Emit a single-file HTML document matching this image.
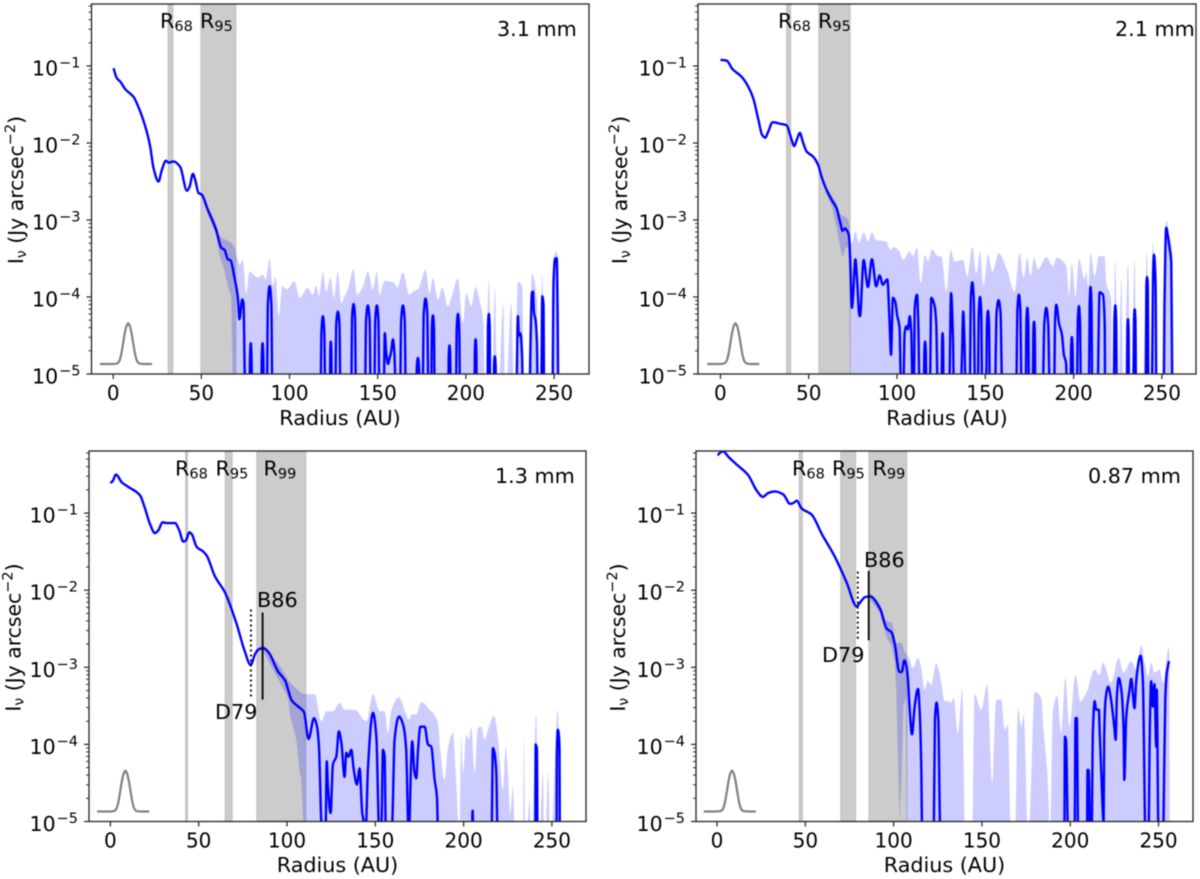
<!DOCTYPE html>
<html lang="en">
<head>
<meta charset="utf-8">
<title>Radial intensity profiles</title>
<style>
html,body{margin:0;padding:0;background:#fff;}
svg{display:block;width:1200px;height:879px;filter:blur(0.4px);}
text{font-family:"DejaVu Sans","Liberation Sans",sans-serif;fill:#000;}
</style>
</head>
<body>
<svg id="figure" width="1200" height="879" viewBox="0 0 1200 879">
  <g id="plots"></g>
  <g id="annotations">
    <text x="23" y="190" font-size="20.4" text-anchor="middle" transform="rotate(-90 23 190)">I<tspan font-size="14" dy="3">ν</tspan><tspan dy="-3"> (Jy arcsec</tspan><tspan font-size="14.5" dy="-8">−2</tspan><tspan dy="8">)</tspan></text>
    <text x="627" y="190" font-size="20.4" text-anchor="middle" transform="rotate(-90 627 190)">I<tspan font-size="14" dy="3">ν</tspan><tspan dy="-3"> (Jy arcsec</tspan><tspan font-size="14.5" dy="-8">−2</tspan><tspan dy="8">)</tspan></text>
    <text x="20.5" y="637.5" font-size="20.4" text-anchor="middle" transform="rotate(-90 20.5 637.5)">I<tspan font-size="14" dy="3">ν</tspan><tspan dy="-3"> (Jy arcsec</tspan><tspan font-size="14.5" dy="-8">−2</tspan><tspan dy="8">)</tspan></text>
    <text x="625" y="637.5" font-size="20.4" text-anchor="middle" transform="rotate(-90 625 637.5)">I<tspan font-size="14" dy="3">ν</tspan><tspan dy="-3"> (Jy arcsec</tspan><tspan font-size="14.5" dy="-8">−2</tspan><tspan dy="8">)</tspan></text>

    <text x="340" y="425" font-size="20.7" text-anchor="middle">Radius (AU)</text>
    <text x="947" y="425" font-size="20.7" text-anchor="middle">Radius (AU)</text>
    <text x="337.5" y="872" font-size="20.7" text-anchor="middle">Radius (AU)</text>
    <text x="944.5" y="872" font-size="20.7" text-anchor="middle">Radius (AU)</text>

    <text x="497" y="36" font-size="20.7">3.1 mm</text>
    <text x="1115" y="36" font-size="20.7">2.1 mm</text>
    <text x="495" y="483" font-size="20.7">1.3 mm</text>
    <text x="1088" y="483" font-size="20.7">0.87 mm</text>

    <text x="160" y="28" font-size="20.7">R<tspan font-size="14.5" dy="3">68</tspan></text>
    <text x="200" y="28" font-size="20.7">R<tspan font-size="14.5" dy="3">95</tspan></text>
    <text x="778" y="28" font-size="20.7">R<tspan font-size="14.5" dy="3">68</tspan></text>
    <text x="818" y="28" font-size="20.7">R<tspan font-size="14.5" dy="3">95</tspan></text>
    <text x="175" y="475.5" font-size="20.7">R<tspan font-size="14.5" dy="3">68</tspan></text>
    <text x="215.5" y="475.5" font-size="20.7">R<tspan font-size="14.5" dy="3">95</tspan></text>
    <text x="263.5" y="475.5" font-size="20.7">R<tspan font-size="14.5" dy="3">99</tspan></text>
    <text x="792" y="475.5" font-size="20.7">R<tspan font-size="14.5" dy="3">68</tspan></text>
    <text x="832" y="475.5" font-size="20.7">R<tspan font-size="14.5" dy="3">95</tspan></text>
    <text x="872.5" y="475.5" font-size="20.7">R<tspan font-size="14.5" dy="3">99</tspan></text>

    <text x="257" y="607" font-size="20.8">B86</text>
    <text x="215" y="719" font-size="20.8">D79</text>
    <text x="864" y="567" font-size="20.8">B86</text>
    <text x="822" y="662" font-size="20.8">D79</text>
  </g>
</svg>
<script>
// ---------- shared axis data ----------
const xTickValues = [0, 50, 100, 150, 200, 250];
const yTickExponents = [-1, -2, -3, -4, -5];
const logMin = -5;
const logMax = -0.195;
const beamRadius = [-7.5,0,2,3.5,4.5,5.5,6.5,7.5,8.5,9.5,10.5,11.5,12.5,13.5,15,17,22];
const beamLog = [-4.87,-4.87,-4.865,-4.83,-4.75,-4.62,-4.48,-4.38,-4.34,-4.38,-4.48,-4.62,-4.75,-4.83,-4.865,-4.87,-4.87];

// ---------- 3.1 mm ----------
const radius31 = [
0.2,2.1,3.9,6.8,11.5,15.3,19,21,22.9,25.7,
27.6,29.9,31.4,34.2,38,41.8,43.3,45.2,46.5,48.4,
50.2,53.7,58.4,61.3,63.2,65,66.4,68.8,70.7,71.6,
73.2,73.9,74.6,75.2,
77.2,77.6,78,78.4,78.8,
83.9,84.3,84.7,85.1,85.5,
87.1,87.7,88.7,89.7,90.3,
117.5,118.1,118.9,119.7,120.3,
122.8,123.1,123.4,123.7,124,
125.9,126.5,127.4,128.3,128.9,
134.9,135.5,136.3,137.1,137.7,
142.7,143.4,144.4,145.4,146.1,
148,148.6,149.5,150.4,151,
153.3,154,154.8,155.8,156.7,157.7,158.6,159.4,160.5,
162.6,163.3,164.3,165.3,166,
171.8,172.2,172.8,173.4,173.8,
175.4,176.1,177.1,178.1,178.8,
180.3,180.7,181.3,181.9,182.3,
189.9,190.3,190.7,191.1,191.5,
194.3,194.8,195.5,196.2,196.7,
204.8,205.1,205.5,205.9,206.2,
212.2,212.5,213,213.5,213.8,
215.6,216,216.4,216.8,217.2,
228.5,229.5,230,230.8,231.9,232.3,
236.1,236.5,237.4,238,238.6,239.5,240.3,240.8,
242.7,243.3,244,244.4,
249,249.7,250.6,251.5,252,252.4];
const logI31 = [
-1.03,-1.16,-1.2,-1.30,-1.40,-1.59,-1.85,-2.05,-2.33,-2.50,
-2.35,-2.23,-2.255,-2.24,-2.31,-2.62,-2.57,-2.40,-2.48,-2.65,
-2.67,-2.87,-3.13,-3.36,-3.39,-3.51,-3.52,-3.75,-4.01,-4.29,
-4.03,-4.08,-5,-5.4,
-5.4,-4.75,-4.6,-4.75,-5.4,
-5.4,-4.75,-4.6,-4.75,-5.4,
-5.4,-4.1,-3.86,-4.1,-5.4,
-5.4,-4.45,-4.25,-4.45,-5.4,
-5.4,-4.7,-4.58,-4.7,-5.4,
-5.4,-4.35,-4.19,-4.35,-5.4,
-5.4,-4.25,-4.09,-4.25,-5.4,
-5.4,-4.3,-4.11,-4.3,-5.4,
-5.4,-4.3,-4.11,-4.3,-5.4,
-5.4,-4.47,-4.72,-4.87,-4.8,-4.7,-4.55,-4.7,-5.4,
-5.4,-4.3,-4.11,-4.3,-5.4,
-5.4,-4.9,-4.79,-4.9,-5.4,
-5.4,-4.22,-4.02,-4.22,-5.4,
-5.4,-4.4,-4.24,-4.4,-5.4,
-5.4,-4.75,-4.63,-4.75,-5.4,
-5.4,-4.4,-4.22,-4.4,-5.4,
-5.4,-4.7,-4.55,-4.7,-5.4,
-5.4,-4.4,-4.22,-4.4,-5.4,
-5.4,-4.85,-4.77,-4.85,-5.4,
-5.4,-4.25,-4.5,-4.47,-4.8,-5.4,
-5.4,-4.79,-3.95,-3.93,-4.2,-4.3,-4.6,-5.4,
-5.4,-3.99,-4.1,-5.4,
-5.4,-3.8,-3.5,-3.5,-4.2,-5.4];
const upperRadius31 = [
50,53.7,58.4,60.3,67.9,70.7,71.6,73.5,75.4,77.3,
82,84.9,86.4,88.7,90.5,92,94,95.8,98.5,102.8,
105.7,110.4,113.2,115.1,116.6,118.9,120.8,123.3,125.1,127.4,
129.3,131.2,133.1,136.3,138.2,141.6,144.4,147.3,149.5,151,
153.9,159.5,160.9,164.3,168,170,172.8,177.1,179.4,181.3,
184.1,186.6,189.8,191.7,195.5,198.3,200.2,203,205.5,208.1,
210,211,213,214.7,216.4,218.1,221.2,222.5,225.7,227.6,
229.5,231.9,233.3,235.2,237.4,240.3,241.4,243.3,244.6,247.8,
250.5,252.3,253];
const upperLog31 = [
-2.63,-2.82,-3.05,-3.2,-3.32,-3.52,-3.58,-3.52,-3.95,-3.67,
-3.75,-3.71,-3.77,-3.51,-3.86,-3.74,-4.25,-3.86,-3.9,-3.79,
-4.01,-3.88,-3.97,-3.85,-3.99,-3.68,-3.93,-3.75,-4.01,-3.67,
-4.08,-3.99,-3.9,-3.64,-3.97,-3.86,-3.67,-3.9,-3.67,-3.97,
-3.79,-3.82,-3.88,-3.68,-3.97,-3.93,-3.9,-3.65,-3.95,-3.75,
-4.03,-3.88,-4.12,-4.01,-3.76,-4.34,-3.95,-4.12,-3.87,-4.08,
-4.34,-5.4,-3.77,-5.4,-3.88,-5.4,-4.1,-5.4,-4.08,-5.4,
-3.8,-3.86,-5.4,-5.4,-3.7,-4.03,-5.4,-3.7,-5.4,-5.4,
-3.41,-3.47,-5.4];
const lowerRadius31 = [50,53.7,58.4,60.3,63,65,66.9,68];
const lowerLog31 = [-2.7,-2.92,-3.2,-3.47,-3.65,-3.86,-3.99,-5.4];
const spanStart31 = [31.1,49.7];
const spanEnd31 = [33.9,69.6];

// ---------- 2.1 mm ----------
const radius21 = [
0,3.5,6.8,12,15.8,18.6,21.5,23.7,25.4,27.1,
29.6,33.7,37.5,39.8,41.8,43.2,45,46.6,48.8,52.6,
55.4,57.3,60.1,63,65.8,67.7,69.2,70.5,72,72.8,
73.6,74.5,75,76.4,77.5,78.5,79,81.1,83.5,85.8,
88.2,90.1,92,94.5,95.8,96.6,97.7,99,100,101.5,
102,102.6,
103.4,104.3,105.3,106.2,107.2,108.1,108.9,
109.5,110,111.3,112,112.9,
115.1,115.5,115.9,116.3,116.7,
118.5,119.4,121.3,122.2,123.2,
125.2,125.5,125.8,126.1,126.4,
129.4,130.6,131.7,132.3,
135.9,136.8,137.5,138.2,139,
141.1,141.8,142.6,143.4,144.3,
145.7,146.3,147,147.7,148.3,
150.4,150.9,151.5,152.1,152.6,
155.3,156.4,157.5,158.6,159.7,
167.4,168.2,169,169.8,170.6,
172.8,173.3,173.8,174.3,174.8,
176.8,177.2,177.6,178,178.4,
182.4,183.4,184.5,185.6,186.6,
188.9,189.5,190.2,191.7,193.4,194.5,195.8,196.2,
198.2,198.6,199,199.4,199.8,
201.8,202.4,203,203.6,204.2,
208.6,209.1,209.6,210.1,210.6,
213.4,214.7,216.6,217.6,217.9,
222.7,223.1,223.6,224.1,224.5,
230.2,230.5,230.8,231.1,231.4,
233.8,234.2,234.6,235,235.4,
240.8,241.2,241.6,242,242.4,
244.3,245,245.5,246.4,246.9,
250.9,251.5,252.4,253.4,254.3,255.3,255.9];
const logI21 = [
-0.92,-0.93,-1.04,-1.14,-1.27,-1.42,-1.70,-1.90,-1.93,-1.85,
-1.73,-1.75,-1.77,-1.92,-2.04,-1.96,-1.87,-1.98,-2.11,-2.18,
-2.29,-2.44,-2.61,-2.74,-2.85,-3.02,-3.14,-3.11,-3.15,-3.21,
-3.6,-4.14,-4.03,-3.51,-3.82,-4.21,-4.25,-3.52,-3.87,-3.51,
-3.86,-3.72,-3.84,-3.77,-4.34,-4.75,-4.01,-4.06,-4.23,-4.42,
-5,-5.4,
-5.4,-4.47,-4.38,-4.42,-4.25,-4.47,-5.4,
-5.4,-4.16,-3.97,-4.29,-5.4,
-5.4,-4.7,-4.58,-4.7,-5.4,
-5.4,-4.01,-4.12,-4.34,-5.4,
-5.4,-4.6,-4.47,-4.6,-5.4,
-5.4,-3.95,-4.55,-5.4,
-5.4,-4.75,-4.19,-4.6,-5.4,
-5.4,-4.0,-3.81,-4.0,-5.4,
-5.4,-4.2,-4,-4.2,-5.4,
-5.4,-4.35,-4.18,-4.35,-5.4,
-5.4,-4.2,-4.04,-4.2,-5.4,
-5.4,-4.15,-3.97,-4.15,-5.4,
-5.4,-4.3,-4.14,-4.3,-5.4,
-5.4,-4.45,-4.32,-4.45,-5.4,
-5.4,-4.35,-4.14,-4.35,-5.4,
-5.4,-4.3,-4.1,-4.34,-4.49,-4.75,-4.88,-5.4,
-5.4,-4.65,-4.52,-4.65,-5.4,
-5.4,-4.3,-4.12,-4.3,-5.4,
-5.4,-4.1,-3.87,-4.1,-5.4,
-5.4,-3.94,-3.97,-4.36,-5.4,
-5.4,-4.3,-4.11,-4.3,-5.4,
-5.4,-4.4,-4.29,-4.4,-5.4,
-5.4,-4.3,-4.16,-4.3,-5.4,
-5.4,-3.85,-3.74,-3.85,-5.4,
-5.4,-3.7,-3.45,-3.82,-5.4,
-5.4,-4.03,-3.10,-3.21,-3.36,-3.56,-5.4];
const upperRadius21 = [
60,63,65.8,67.5,72.8,73.6,74.5,76.4,78.5,81.1,
83.5,85.8,88.2,93.9,96.2,98.1,101.5,103.4,107.2,109,
111.3,113.4,115.8,117.5,119.8,123.2,125.1,128,130.4,132.6,
137.4,139.8,142.6,144.9,147,149,151.5,154,157.6,161.9,
166.6,169.4,171.7,173.8,175.5,177.6,179.8,184.5,188.3,190.2,
195.9,197.4,199,201.1,203,206.2,207.2,208.3,209.6,211.9,
214.3,217.5,218.5,221.3,221.9,223.6,225.2,227,228.3,230.8,
232.5,234.6,235.8,239.2,241.5,243,244.9,246.8,249.6,252.4,
254.3,255.9,256.3];
const upperLog21 = [
-2.57,-2.68,-2.78,-2.91,-3.02,-3.26,-3.3,-3.15,-3.3,-3.16,
-3.28,-3.16,-3.26,-3.28,-3.39,-3.35,-3.41,-3.52,-3.41,-3.47,
-3.36,-3.82,-3.45,-3.54,-3.38,-3.47,-3.47,-3.93,-3.39,-3.54,
-3.52,-3.73,-3.35,-3.69,-3.41,-3.86,-3.45,-3.67,-3.43,-3.62,
-3.93,-3.43,-3.75,-3.49,-3.73,-3.49,-3.64,-3.48,-3.6,-3.49,
-3.6,-3.99,-3.56,-3.99,-3.51,-3.77,-3.67,-3.88,-3.43,-3.73,
-3.47,-3.47,-3.82,-4.03,-5.4,-3.52,-5.4,-3.77,-5.4,-3.58,
-5.4,-3.52,-5.4,-5.4,-3.41,-5.4,-3.28,-5.4,-5.4,-3,
-3.21,-3.43,-5.4];
const lowerRadius21 = [60,63,65.8,69,71.3,72.8,73.6];
const lowerLog21 = [-2.66,-2.82,-3.1,-3.49,-3.34,-3.39,-5.4];
const spanStart21 = [37.4,55.7];
const spanEnd21 = [39.8,73.5];

// ---------- 1.3 mm ----------
const radius13 = [
0,1.3,3.2,6.4,10.1,16.8,19.6,22.4,25.2,27.1,
29.6,31.9,36.6,39,41.3,42.8,44.7,46,48.9,52.6,
54.5,59.2,64.9,71.5,76.2,79.4,81.9,83.8,86.6,89.4,
95.1,98.9,102.7,106.4,109.6,112.2,115.3,117,118.1,119.4,
120.4,
121.9,122.5,123.2,124.7,126,127.9,129.4,130.8,132.6,133.6,
134.9,136.4,137.7,139.6,141.1,142.6,143.4,144,
144.9,145.8,148.7,150.6,151.9,152.8,
153.6,154.3,155.3,155.8,156.2,
159.6,160.9,163.4,165.7,167.5,168.5,169,
169.4,170.9,172.2,173.2,174.2,175.5,178,179.8,181.7,183.6,184.9,185.3,185.7,
204.5,205.1,205.7,
215.7,216.6,217.5,218.5,219.4,
240.6,240.8,241.5,241.9,
252.6,252.8,253.4,254.3,254.5];
const logI13 = [
-0.61,-0.585,-0.50,-0.60,-0.66,-0.77,-0.94,-1.14,-1.26,-1.225,
-1.12,-1.13,-1.13,-1.225,-1.37,-1.355,-1.25,-1.27,-1.44,-1.5,
-1.55,-1.82,-2.03,-2.44,-2.8,-2.97,-2.83,-2.77,-2.75,-2.8,
-3.06,-3.17,-3.43,-3.51,-3.58,-3.93,-3.66,-3.77,-4.03,-5,
-5.4,
-5.1,-4.22,-4.55,-4.89,-4.26,-4.16,-3.83,-3.98,-4.42,-4.11,
-4.16,-4.07,-4.31,-4.52,-4.31,-4.89,-5,-5.4,
-5,-4.33,-3.59,-3.9,-5,-5.4,
-5,-4.07,-4.16,-5,-5.4,
-5,-3.94,-3.64,-3.74,-4.07,-5,-5.4,
-5,-3.96,-4.37,-4.44,-4.07,-3.77,-3.77,-4,-4.03,-4.46,-4.68,-5,-5.4,
-5.4,-4.86,-5.4,
-5.4,-4.05,-4.11,-4.37,-5.4,
-5.4,-4,-4.05,-5.4,
-5.4,-4.16,-3.81,-4.05,-5.4];
const upperRadius13 = [
86.6,95.9,102.7,110.7,115.7,119.4,122.3,126,129.8,132.6,
138.3,144.9,148.7,152.5,155.3,157.2,159.1,163.4,167.2,169.1,
170.4,173.2,176,180.8,185.5,186.8,189.2,191.1,194,195.5,
196.8,197.4,198.7,199.6,201.5,203,204.3,206.2,208.1,210,
211.9,213.8,217.2,219.4,222.3,223.8,225.1,226.4,227.9,229.4,
233.6,234,235.1,237.4,238.3,241.1,242.6,244.9,245.8,248,
249,253.4,254.7];
const upperLog13 = [
-2.72,-2.98,-3.22,-3.35,-3.35,-3.7,-3.57,-3.57,-3.46,-3.55,
-3.55,-3.7,-3.35,-3.57,-3.57,-3.85,-3.55,-3.39,-3.59,-3.68,
-3.61,-3.61,-3.45,-3.55,-3.72,-4.07,-4.46,-4.05,-3.85,-4.37,
-4.98,-5.4,-3.9,-4.37,-3.87,-3.94,-3.77,-4.37,-3.79,-3.77,
-3.94,-3.81,-3.63,-3.9,-4.59,-4.03,-4.37,-4.9,-4.55,-5.4,
-5.4,-3.9,-5.4,-4.72,-5.4,-3.61,-5.4,-4.37,-5.4,-4.37,
-5.4,-3.55,-5.4];
const lowerRadius13 = [86.6,92.7,97.5,100.6,101.9,105.3,107.2,108,110];
const lowerLog13 = [-2.79,-3.06,-3.26,-3.4,-3.64,-3.94,-4.37,-4.44,-5.4];
const spanStart13 = [42.6,65,82.9];
const spanEnd13 = [43.7,69,110.7];
const gapMarker13 = [79.6,-2.25,-3.41];
const ringMarker13 = [86.2,-2.29,-3.42];

// ---------- 0.87 mm ----------
const radius087 = [
0.4,2.1,3.6,6.4,11.1,17.7,22.5,25.9,29,32.8,
37.6,41.3,43.2,45.1,47.9,53.6,59.3,66.8,73.4,79.1,
81,83.8,86.6,92.3,96.1,98.9,100.8,103.2,104.6,106.1,
107.4,108.1,109.1,110.4,111.9,113.8,114.7,115.7,116,116.6,
122.3,122.8,123.4,124.3,125.3,126.2,126.8,
196.6,197,197.6,198.5,198.9,
202.4,203,203.8,204.3,204.6,
209.4,209.8,210.6,211.3,
212,212.8,213.8,214.7,216.2,216.6,217.5,218.9,219.2,220,
221.5,223.2,225.1,225.7,226.4,227.5,228.9,230.2,230.6,231.7,
233.6,234.5,236.4,237.4,239.8,241.1,242.3,242.6,
244.5,244.9,245.8,246.8,247.7,248.7,249,249.8,250.4,
252.5,252.8,253.8,254.7,255.9];
const logI087 = [
-0.25,-0.21,-0.2,-0.27,-0.37,-0.51,-0.71,-0.79,-0.74,-0.72,
-0.76,-0.88,-0.87,-0.84,-0.94,-1.02,-1.27,-1.57,-1.9,-2.21,
-2.16,-2.09,-2.08,-2.24,-2.5,-2.55,-2.72,-3.06,-3.06,-2.91,
-3,-3.16,-3.55,-3.87,-3.51,-3.28,-3.55,-4.37,-5,-5.4,
-5.4,-5,-3.68,-3.46,-3.68,-5,-5.4,
-5.4,-3.9,-3.94,-5,-5.4,
-5.4,-3.66,-3.66,-5,-5.4,
-5.4,-4.33,-4.34,-5.4,
-5.4,-3.85,-3.44,-3.55,-3.55,-3.79,-4.33,-5,-3.94,-3.42,
-3.25,-3.44,-3.81,-3.94,-3.38,-3.14,-3.29,-3.81,-4.46,-3.64,
-3.29,-3.15,-3.53,-3.16,-2.85,-3.16,-5,-5.4,
-5,-4.03,-3.18,-3.51,-3.22,-4.03,-3.29,-5,-5.4,
-5.4,-5,-3.42,-3.07,-2.92];
const upperRadius087 = [
86.6,92.3,96.1,98.9,101.5,104.3,106.2,109.1,110.9,113.8,
115.7,117.5,119.4,121.3,124.2,127,128.9,130.8,132.2,134,
136.4,138.9,140.6,144.3,145.8,149.6,153,155.8,158.1,160.9,
163,164.7,166.6,168.5,170.4,172.3,173.6,175.5,175.9,178,
179.8,183.6,184.9,187.9,188.3,190.2,192.6,194.9,197.2,199.6,
203,205.7,209.1,213.8,216.6,218.5,223.2,227.4,230.2,234.5,
237.4,240.2,242.1,244,245.8,247.7,250.6,252.5,255.7,256.2,
256.3];
const upperLog087 = [
-2.04,-2.18,-2.4,-2.42,-2.68,-2.68,-2.79,-2.9,-3.01,-2.88,
-3.01,-3.29,-3.18,-3.23,-2.95,-3.2,-3.44,-3.44,-3.46,-3.4,
-3.85,-3.29,-5.4,-5.4,-3.35,-3.55,-3.22,-4.5,-3.42,-3.42,
-3.81,-3.74,-5.4,-5.4,-3.53,-3.77,-3.61,-4.98,-5.4,-4.37,
-3.32,-3.4,-3.81,-4.8,-5.4,-3.55,-3.37,-3.85,-3.14,-3.77,
-3.1,-3.44,-3.33,-3.03,-3.1,-2.94,-3.2,-2.88,-3.07,-2.92,
-3.03,-2.71,-2.94,-3.12,-2.94,-3.07,-3.03,-3.2,-2.75,-2.9,
-5.4];
const lowerRadius087 = [86.6,92.3,96.1,98.9,100.6,101.5,102.5,103.4,104.5,105.5,107,107.4];
const lowerLog087 = [-2.12,-2.3,-2.62,-2.72,-2.94,-3.3,-4.2,-5,-4.4,-3.5,-3.4,-5.4];
const spanStart087 = [46.5,70,86];
const spanEnd087 = [48.4,78.5,107.5];
const gapMarker087 = [79.7,-1.76,-2.64];
const ringMarker087 = [85.9,-1.75,-2.65];

// ---------- layout ----------
const layouts = [
  {key:'3-1mm', left:91.5, right:589, top:4, bottom:374, xMin:-12.3, xMax:269.8,
   radius:radius31, logI:logI31, upperR:upperRadius31, upperL:upperLog31, lowerR:lowerRadius31, lowerL:lowerLog31, spanA:spanStart31, spanB:spanEnd31},
  {key:'2-1mm', left:698, right:1196, top:4, bottom:374, xMin:-12.7, xMax:269.3,
   radius:radius21, logI:logI21, upperR:upperRadius21, upperL:upperLog21, lowerR:lowerRadius21, lowerL:lowerLog21, spanA:spanStart21, spanB:spanEnd21},
  {key:'1-3mm', left:89, right:586, top:451, bottom:821.5, xMin:-12.1, xMax:269.3,
   radius:radius13, logI:logI13, upperR:upperRadius13, upperL:upperLog13, lowerR:lowerRadius13, lowerL:lowerLog13, spanA:spanStart13, spanB:spanEnd13, gap:gapMarker13, ring:ringMarker13},
  {key:'0-87mm', left:696, right:1193, top:451, bottom:821.5, xMin:-11.9, xMax:269.5,
   radius:radius087, logI:logI087, upperR:upperRadius087, upperL:upperLog087, lowerR:lowerRadius087, lowerL:lowerLog087, spanA:spanStart087, spanB:spanEnd087, gap:gapMarker087, ring:ringMarker087}
];

function make(parent, tag, attrs) {
  const e = document.createElementNS(parent.namespaceURI, tag);
  for (const k in attrs) e.setAttribute(k, attrs[k]);
  parent.appendChild(e);
  return e;
}
// Monotone cubic through the read values (no overshoot), returned as path segments.
function curveSegments(rs, ls, X, Y, command) {
  const n = rs.length;
  const px = rs.map(X);
  const py = ls.map(Y);
  const slope = [];
  for (let i = 0; i < n - 1; i++) slope.push((py[i + 1] - py[i]) / Math.max(px[i + 1] - px[i], 0.001));
  const tan = [];
  for (let i = 0; i < n; i++) {
    if (i === 0) tan.push(slope[0]);
    else if (i === n - 1) tan.push(slope[n - 2]);
    else if (slope[i - 1] * slope[i] <= 0) tan.push(0);
    else {
      const a = px[i] - px[i - 1];
      const b = px[i + 1] - px[i];
      tan.push(3 * (a + b) / ((2 * b + a) / slope[i - 1] + (b + 2 * a) / slope[i]));
    }
  }
  let d = command + px[0].toFixed(2) + ' ' + py[0].toFixed(2);
  for (let i = 0; i < n - 1; i++) {
    const h = (px[i + 1] - px[i]) / 3;
    d += 'C' + (px[i] + h).toFixed(2) + ' ' + (py[i] + tan[i] * h).toFixed(2) + ' ' +
      (px[i + 1] - h).toFixed(2) + ' ' + (py[i + 1] - tan[i + 1] * h).toFixed(2) + ' ' +
      px[i + 1].toFixed(2) + ' ' + py[i + 1].toFixed(2);
  }
  return d;
}

const plots = document.getElementById('plots');

layouts.forEach(function (p, idx) {
  const X = function (r) { return p.left + (r - p.xMin) / (p.xMax - p.xMin) * (p.right - p.left); };
  const Y = function (l) { return p.bottom - (l - logMin) / (logMax - logMin) * (p.bottom - p.top); };

  const panel = make(plots, 'g', {});
  
  

  const clip = make(panel, 'clipPath', {id: 'clip-' + idx});
  make(clip, 'rect', {x: p.left, y: p.top, width: p.right - p.left, height: p.bottom - p.top});

  const area = make(panel, 'g', {'clip-path': 'url(#clip-' + idx + ')'});
  
  

  p.spanA.forEach(function (a, i) {
    const s = make(area, 'rect', {x: X(a), y: p.top, width: X(p.spanB[i]) - X(a), height: p.bottom - p.top,
      fill: '#808080', 'fill-opacity': 0.4, stroke: '#808080', 'stroke-opacity': 0.25, 'stroke-width': 1.3});
    
    
  });

  const revR = p.lowerR.slice().reverse();
  const revL = p.lowerL.slice().reverse();
  const bandPath = curveSegments(p.upperR, p.upperL, X, Y, 'M') + 'L' +
    revR.map(function (r, i) { return X(r).toFixed(2) + ' ' + Y(revL[i]).toFixed(2); }).join('L') + 'Z';
  const band = make(area, 'path', {d: bandPath, fill: '#0000ff', 'fill-opacity': 0.2});
  
  

  const line = make(area, 'path', {d: curveSegments(p.radius, p.logI, X, Y, 'M'), fill: 'none', stroke: '#0000ff', 'stroke-width': 2.4, 'stroke-linejoin': 'round'});
  
  

  const beam = make(area, 'path', {d: curveSegments(beamRadius, beamLog, X, Y, 'M'), fill: 'none', stroke: '#808080', 'stroke-width': 2.2, 'stroke-linejoin': 'round'});
  
  

  if (p.gap) {
    const g = make(area, 'line', {x1: X(p.gap[0]), x2: X(p.gap[0]), y1: Y(p.gap[1]), y2: Y(p.gap[2]), stroke: '#000', 'stroke-width': 1.8, 'stroke-dasharray': '2 3'});
    
    
    const r = make(area, 'line', {x1: X(p.ring[0]), x2: X(p.ring[0]), y1: Y(p.ring[1]), y2: Y(p.ring[2]), stroke: '#000', 'stroke-width': 1.8});
    
    
  }

  xTickValues.forEach(function (v) {
    const t = make(panel, 'line', {x1: X(v), x2: X(v), y1: p.bottom, y2: p.bottom + 5, stroke: '#222', 'stroke-width': 1.2});
    
    
    const label = make(panel, 'text', {x: X(v), y: p.bottom + 26, 'font-size': 20, 'text-anchor': 'middle'});
    
    
    label.textContent = String(v);
  });

  yTickExponents.forEach(function (ex) {
    const t = make(panel, 'line', {x1: p.left - 5, x2: p.left, y1: Y(ex), y2: Y(ex), stroke: '#222', 'stroke-width': 1.2});
    
    
    const label = make(panel, 'text', {x: p.left - 11, y: Y(ex) + 9.5, 'font-size': 20.5, 'text-anchor': 'end'});
    
    
    const base = make(label, 'tspan', {});
    base.textContent = '10';
    const power = make(label, 'tspan', {'font-size': 14.5, dy: -8, dx: 1});
    power.textContent = '\u2212' + Math.abs(ex);
    for (let m = 2; m <= 9; m++) {
      const lv = ex + Math.log10(m);
      if (lv > logMax) break;
      const mt = make(panel, 'line', {x1: p.left - 3, x2: p.left, y1: Y(lv), y2: Y(lv), stroke: '#222', 'stroke-width': 0.9});
      
      
    }
  });

  const frame = make(panel, 'rect', {x: p.left, y: p.top, width: p.right - p.left, height: p.bottom - p.top, fill: 'none', stroke: '#222', 'stroke-width': 1.3});
  
  
});
</script>
</body>
</html>
